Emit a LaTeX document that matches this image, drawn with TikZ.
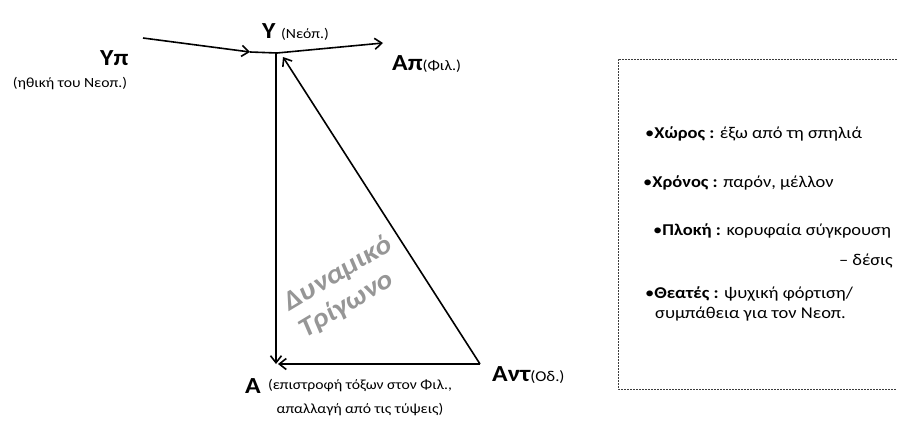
\documentclass[tikz,border=0pt]{standalone}
\usepackage{fontspec}
\setmainfont{Carlito}
\usetikzlibrary{arrows.meta}
\definecolor{trigray}{RGB}{150,150,150}
\definecolor{boxgray}{RGB}{60,60,60}
\newcommand{\hs}[1]{\scalebox{1.12}[1]{#1}}
\tikzset{
  arr/.style={line width=1.6pt, -{Straight Barb[length=7pt,width=11pt,line width=1.6pt]}},
  plain/.style={line width=1.6pt},
  big/.style={font=\fontsize{23}{27}\selectfont\bfseries, inner sep=0pt, anchor=base west},
  small/.style={font=\fontsize{14}{24}\selectfont, inner sep=0pt},
  boxtxt/.style={font=\fontsize{16.5}{20}\selectfont, inner sep=0pt, anchor=base west},
  tri/.style={font=\fontsize{27}{31}\selectfont\bfseries\itshape, text=trigray, inner sep=0pt, rotate=31, align=center}
}
\begin{document}
\begin{tikzpicture}[x=1pt,y=-1pt]
\useasboundingbox (0,0) rectangle (897,426);
% coordinates
\coordinate (ys) at (143,38);
\coordinate (m) at (250,52);
\coordinate (j) at (277,53);
\coordinate (ae) at (383,43);
\coordinate (jv) at (276,53);
\coordinate (ac) at (276,364);
\coordinate (bc) at (480,364);
\coordinate (tip) at (283,57);
% connectors
\draw[arr] (ys) -- (m);
\draw[plain] (m) -- (j);
\draw[arr] (j) -- (ae);
\draw[arr] (jv) -- (ac);
\draw[arr] (bc) -- ([xshift=2pt]ac);
\draw[arr] (bc) -- (tip);
% labels
\node[big] (yp) at (100,65) {\hs{Υπ}};
\node[small] (ypsub) at (70,84) {\hs{(ηθική του Νεοπ.)}};
\node[big] (y) at (262,38) {\hs{Υ\hspace{5pt}{\fontsize{14}{15}\selectfont\mdseries(Νεόπ.)}}};
\node[big] (ap) at (392,70) {\hs{Απ{\fontsize{14.5}{16}\selectfont\mdseries(Φιλ.)}}};
\node[big] (ant) at (492,381) {\hs{Αντ{\fontsize{15}{16}\selectfont\mdseries(Οδ.)}}};
\node[big] (a) at (245,393) {\hs{Α}};
\node[small, align=center] (asub) at (360,398) {\hs{(επιστροφή τόξων στον Φιλ.,}\\\hs{απαλλαγή από τις τύψεις)}};
\node[tri] (t) at (346,287) {\hs{Δυναμικό}\\\hs{Τρίγωνο}\hspace*{18pt}};
% dashed box
\draw[boxgray, line width=1pt, dash pattern=on 2pt off 1pt] (900,59) -- (618,59) -- (618,389) -- (900,389);
\node[boxtxt] (b1) at (645,138) {\hs{•\textbf{Χώρος :} έξω από τη σπηλιά}};
\node[boxtxt] (b2) at (643,187) {\hs{•\textbf{Χρόνος :} παρόν, μέλλον}};
\node[boxtxt] (b3) at (653,235) {\hs{•\textbf{Πλοκή :} κορυφαία σύγκρουση}};
\node[boxtxt, anchor=base east] (b3b) at (893,265) {\hs{– δέσις}};
\node[boxtxt] (b4) at (645,298) {\hs{•\textbf{Θεατές :} ψυχική φόρτιση/}};
\node[boxtxt] (b5) at (655,318) {\hs{συμπάθεια για τον Νεοπ.}};
\end{tikzpicture}
\end{document}
